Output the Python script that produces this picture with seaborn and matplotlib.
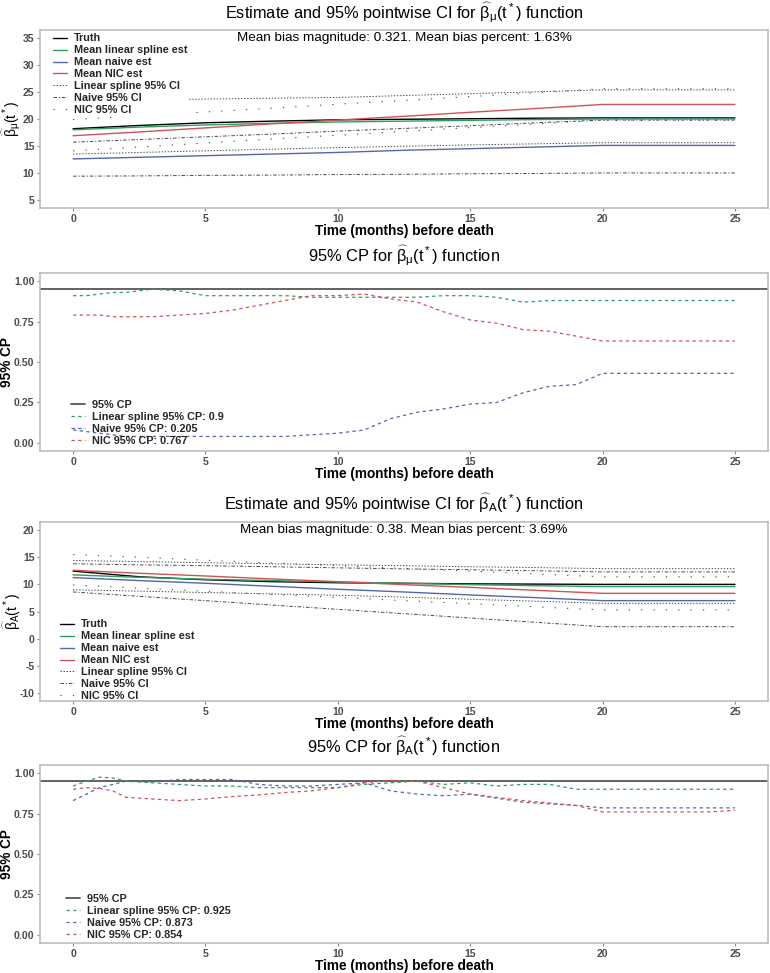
import matplotlib
matplotlib.use("Agg")
import matplotlib.pyplot as plt
import seaborn as sns
import numpy as np
import pandas as pd

# ---------------- data ----------------
t_est = [0, 2.5, 5, 7.5, 10, 12.5, 15, 17.5, 20, 25]

truth_mu    = [18.2, 18.8, 19.3, 19.6, 19.85, 19.95, 20.05, 20.15, 20.2, 20.2]
ls_mu       = [18.0, 18.5, 18.9, 19.2, 19.45, 19.6, 19.75, 19.9, 20.0, 20.0]
naive_mu    = [12.6, 12.9, 13.2, 13.5, 13.8, 14.2, 14.5, 14.8, 15.1, 15.1]
nic_mu      = [16.9, 17.6, 18.35, 19.1, 19.8, 20.5, 21.25, 21.95, 22.7, 22.7]
ls_lo_mu    = [13.5, 13.8, 14.1, 14.4, 14.7, 14.95, 15.2, 15.4, 15.6, 15.6]
ls_hi_mu    = [23.4, 23.5, 23.7, 23.85, 24.0, 24.35, 24.7, 25.05, 25.4, 25.4]
naive_lo_mu = [9.4, 9.45, 9.55, 9.6, 9.7, 9.75, 9.85, 9.9, 10.0, 10.0]
naive_hi_mu = [15.7, 16.2, 16.7, 17.2, 17.75, 18.25, 18.75, 19.3, 19.8, 19.8]
nic_lo_mu   = [14.1, 14.8, 15.55, 16.3, 17.0, 17.7, 18.4, 19.1, 19.8, 19.8]
nic_hi_mu   = [19.9, 20.6, 21.3, 22.0, 22.75, 23.45, 24.15, 24.9, 25.6, 25.6]

truth_A    = [12.45, 11.4, 10.85, 10.5, 10.3, 10.2, 10.1, 10.05, 10.0, 10.0]
ls_A       = [11.75, 11.3, 10.95, 10.7, 10.45, 10.2, 9.95, 9.75, 9.6, 9.6]
naive_A    = [11.25, 10.7, 10.2, 9.65, 9.1, 8.6, 8.05, 7.55, 7.0, 7.0]
nic_A      = [12.6, 12.05, 11.55, 11.0, 10.5, 9.95, 9.45, 8.9, 8.35, 8.35]
ls_lo_A    = [9.0, 8.75, 8.5, 8.25, 8.0, 7.65, 7.25, 6.9, 6.5, 6.5]
ls_hi_A    = [14.4, 14.2, 14.0, 13.8, 13.6, 13.45, 13.25, 13.1, 12.9, 12.9]
naive_lo_A = [8.6, 7.8, 7.0, 6.2, 5.4, 4.6, 3.8, 3.0, 2.2, 2.2]
naive_hi_A = [13.8, 13.6, 13.45, 13.25, 13.05, 12.85, 12.7, 12.5, 12.3, 12.3]
nic_lo_A   = [9.9, 9.3, 8.75, 8.15, 7.6, 7.0, 6.45, 5.85, 5.3, 5.3]
nic_hi_A   = [15.5, 15.0, 14.45, 13.95, 13.45, 12.95, 12.45, 11.9, 11.4, 11.4]

t_cp = [0, 0.5, 1, 1.5, 2, 3, 4, 5, 6, 7, 8, 9, 10, 11, 12, 13, 14, 15, 16, 17,
        18, 19, 20, 21, 22, 23, 24, 25]

cp_mu_ls    = [0.91, 0.91, 0.92, 0.93, 0.93, 0.95, 0.94, 0.91, 0.91, 0.91, 0.91, 0.90, 0.90, 0.90,
               0.90, 0.90, 0.91, 0.91, 0.90, 0.87, 0.88, 0.88, 0.88, 0.88, 0.88, 0.88, 0.88, 0.88]
cp_mu_naive = [0.08, 0.07, 0.06, 0.05, 0.04, 0.04, 0.04, 0.04, 0.04, 0.04, 0.04, 0.05, 0.06, 0.08,
               0.15, 0.19, 0.21, 0.24, 0.25, 0.31, 0.35, 0.36, 0.43, 0.43, 0.43, 0.43, 0.43, 0.43]
cp_mu_nic   = [0.79, 0.79, 0.79, 0.78, 0.78, 0.78, 0.79, 0.80, 0.82, 0.85, 0.88, 0.91, 0.91, 0.92,
               0.89, 0.87, 0.81, 0.76, 0.74, 0.70, 0.69, 0.66, 0.63, 0.63, 0.63, 0.63, 0.63, 0.63]

cp_A_ls    = [0.92, 0.95, 0.975, 0.97, 0.95, 0.94, 0.93, 0.92, 0.92, 0.91, 0.91, 0.91, 0.91, 0.93,
              0.94, 0.95, 0.93, 0.94, 0.92, 0.93, 0.93, 0.90, 0.90, 0.90, 0.90, 0.90, 0.90, 0.90]
cp_A_naive = [0.83, 0.87, 0.91, 0.93, 0.95, 0.945, 0.96, 0.96, 0.96, 0.93, 0.92, 0.92, 0.93, 0.94,
              0.89, 0.87, 0.86, 0.87, 0.845, 0.82, 0.81, 0.80, 0.785, 0.785, 0.785, 0.785, 0.785, 0.785]
cp_A_nic   = [0.90, 0.91, 0.905, 0.89, 0.85, 0.84, 0.83, 0.84, 0.855, 0.865, 0.88, 0.89, 0.91, 0.94,
              0.955, 0.95, 0.91, 0.87, 0.85, 0.83, 0.815, 0.80, 0.76, 0.76, 0.76, 0.76, 0.76, 0.77]

cp_nominal = 0.95

x_ticks = [0, 5, 10, 15, 20, 25]
y_ticks_mu = [5, 10, 15, 20, 25, 30, 35]
y_ticks_A = [-10, -5, 0, 5, 10, 15, 20]
y_ticks_cp = [0.00, 0.25, 0.50, 0.75, 1.00]

titles = [r"Estimate and 95% pointwise CI for $\widehat{\beta}_{\mu}(\mathrm{t}^*)$ function",
          r"95% CP for $\widehat{\beta}_{\mu}(\mathrm{t}^*)$ function",
          r"Estimate and 95% pointwise CI for $\widehat{\beta}_{A}(\mathrm{t}^*)$ function",
          r"95% CP for $\widehat{\beta}_{A}(\mathrm{t}^*)$ function"]
bias_mu = "Mean bias magnitude: 0.321. Mean bias percent: 1.63%"
bias_A = "Mean bias magnitude: 0.38. Mean bias percent: 3.69%"
cp_labels_mu = ["95% CP", "Linear spline 95% CP: 0.9", "Naive 95% CP: 0.205", "NIC 95% CP: 0.767"]
cp_labels_A = ["95% CP", "Linear spline 95% CP: 0.925", "Naive 95% CP: 0.873", "NIC 95% CP: 0.854"]

# ---------------- style ----------------
sns.set_theme(style="white")
plt.rcParams["font.family"] = ["Liberation Sans", "DejaVu Sans"]
plt.rcParams["mathtext.fontset"] = "custom"
plt.rcParams["mathtext.rm"] = "Liberation Sans"
plt.rcParams["mathtext.it"] = "Liberation Sans"
plt.rcParams["mathtext.bf"] = "Liberation Sans:bold"
plt.rcParams["axes.unicode_minus"] = False
plt.rcParams["lines.scale_dashes"] = False

GREEN = "#2e9e62"
BLUE = "#5568a6"
RED = "#cf5457"
CIGRAY = "#4a4a4a"
SPINE = "#b8b8b8"
TICKC = "#4d4d4d"

ls_dot = (0, (1.0, 1.2))
ls_dotdash = (0, (2.6, 1.3, 0.8, 1.3))
ls_sparse = (0, (0.9, 8.0))
ls_dash = (0, (2.4, 2.4))

fig = plt.figure(figsize=(7.7, 9.73), dpi=100)
W = 728 / 770
L = 40 / 770
rects = [(208, 178), (451, 178), (701, 179), (943, 178)]
axes = [fig.add_axes([L, 1 - b / 973, W, h / 973]) for b, h in rects]


def style_axes(ax, yt, ylim, ylab, ylab_bold, title, ytfmt=None):
    ax.set_xlim(-1.25, 26.25)
    ax.set_ylim(*ylim)
    ax.set_xticks(x_ticks)
    ax.set_yticks(yt)
    if ytfmt:
        ax.set_yticklabels([ytfmt.format(v) for v in yt])
    for s in ax.spines.values():
        s.set_color(SPINE)
        s.set_linewidth(1.1)
        s.set_visible(True)
    ax.tick_params(axis="both", which="both", length=2.5, width=0.8, color="#8a8a8a",
                   labelcolor=TICKC, labelsize=7.6, pad=1.5, direction="out",
                   bottom=True, left=True)
    for lab in ax.get_xticklabels() + ax.get_yticklabels():
        lab.set_fontweight("bold")
    ax.set_xlabel("Time (months) before death", fontsize=9.8, fontweight="bold",
                  color="black", labelpad=0)
    if ylab_bold:
        ax.set_ylabel(ylab, fontsize=9.8, fontweight="bold", color="black")
        ax.yaxis.set_label_coords(-0.036, 0.5)
    else:
        ax.set_ylabel(ylab, fontsize=10, color="black")
        ax.yaxis.set_label_coords(-0.0235, 0.5)
    ax.set_title(title, fontsize=11.8, color="black", pad=8.5)
    ax.grid(False)


def legend(ax, loc, anchor, white):
    leg = ax.legend(loc=loc, bbox_to_anchor=anchor, frameon=white, facecolor="white",
                    edgecolor="none", framealpha=1, fancybox=False,
                    prop={"weight": "bold", "size": 7.8}, handlelength=1.35,
                    handletextpad=0.6, labelspacing=0.18, borderpad=0.15,
                    borderaxespad=0)
    leg.set_zorder(5)
    return leg


def est_panel(ax, truth, ls, nv, nic, lslo, lshi, nvlo, nvhi, niclo, nichi):
    sns.lineplot(x=t_est, y=truth, ax=ax, color="black", lw=1.0, label="Truth", zorder=3)
    sns.lineplot(x=t_est, y=ls, ax=ax, color=GREEN, lw=1.0, label="Mean linear spline est", zorder=3)
    sns.lineplot(x=t_est, y=nv, ax=ax, color=BLUE, lw=1.0, label="Mean naive est", zorder=3)
    sns.lineplot(x=t_est, y=nic, ax=ax, color=RED, lw=1.0, label="Mean NIC est", zorder=3)
    sns.lineplot(x=t_est, y=lslo, ax=ax, color=CIGRAY, lw=0.7, linestyle=ls_dot, label="Linear spline 95% CI")
    sns.lineplot(x=t_est, y=lshi, ax=ax, color=CIGRAY, lw=0.7, linestyle=ls_dot, label="_nolegend_")
    sns.lineplot(x=t_est, y=nvlo, ax=ax, color=CIGRAY, lw=0.7, linestyle=ls_dotdash, label="Naive 95% CI")
    sns.lineplot(x=t_est, y=nvhi, ax=ax, color=CIGRAY, lw=0.7, linestyle=ls_dotdash, label="_nolegend_")
    sns.lineplot(x=t_est, y=niclo, ax=ax, color=CIGRAY, lw=0.8, linestyle=ls_sparse, label="NIC 95% CI")
    sns.lineplot(x=t_est, y=nichi, ax=ax, color=CIGRAY, lw=0.8, linestyle=ls_sparse, label="_nolegend_")


def cp_panel(ax, ls, nv, nic, labels):
    ax.axhline(cp_nominal, color="#555555", lw=1.3, label=labels[0], zorder=2)
    sns.lineplot(x=t_cp, y=ls, ax=ax, color=GREEN, lw=0.9, linestyle=ls_dash, label=labels[1])
    sns.lineplot(x=t_cp, y=nv, ax=ax, color=BLUE, lw=0.9, linestyle=ls_dash, label=labels[2])
    sns.lineplot(x=t_cp, y=nic, ax=ax, color=RED, lw=0.9, linestyle=ls_dash, label=labels[3])


# Panel 1
ax = axes[0]
est_panel(ax, truth_mu, ls_mu, naive_mu, nic_mu, ls_lo_mu, ls_hi_mu,
          naive_lo_mu, naive_hi_mu, nic_lo_mu, nic_hi_mu)
style_axes(ax, y_ticks_mu, (3.5, 36.5), r"$\widehat{\beta}_{\mu}(\mathrm{t}^*)$", False, titles[0])
ax.text(12.5, 35, bias_mu, ha="center", va="center", fontsize=9.7, color="black", zorder=6)
legend(ax, "upper left", (0.015, 0.99), True)

# Panel 2
ax = axes[1]
cp_panel(ax, cp_mu_ls, cp_mu_naive, cp_mu_nic, cp_labels_mu)
style_axes(ax, y_ticks_cp, (-0.05, 1.05), "95% CP", True, titles[1], "{:.2f}")
legend(ax, "lower left", (0.04, 0.02), False)

# Panel 3
ax = axes[2]
est_panel(ax, truth_A, ls_A, naive_A, nic_A, ls_lo_A, ls_hi_A,
          naive_lo_A, naive_hi_A, nic_lo_A, nic_hi_A)
style_axes(ax, y_ticks_A, (-11.5, 21.5), r"$\widehat{\beta}_{A}(\mathrm{t}^*)$", False, titles[2])
ax.text(12.5, 20, bias_A, ha="center", va="center", fontsize=9.7, color="black", zorder=6)
legend(ax, "lower left", (0.025, -0.01), False)

# Panel 4
ax = axes[3]
cp_panel(ax, cp_A_ls, cp_A_naive, cp_A_nic, cp_labels_A)
style_axes(ax, y_ticks_cp, (-0.05, 1.05), "95% CP", True, titles[3], "{:.2f}")
legend(ax, "lower left", (0.033, 0.01), False)

fig.savefig("out.png", dpi=100)
